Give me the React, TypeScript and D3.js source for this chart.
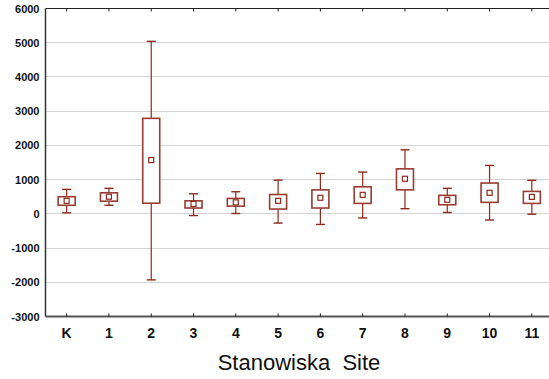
import React, { useEffect, useRef } from 'react';
import * as d3 from 'd3';

// categories (stations)
const sites = ['K', '1', '2', '3', '4', '5', '6', '7', '8', '9', '10', '11'];
// box plot stats
const mins = [30, 250, -1930, -50, 10, -270, -310, -120, 150, 40, -180, -10];
const q1s = [250, 370, 310, 170, 225, 140, 170, 305, 700, 265, 335, 305];
const means = [380, 500, 1570, 290, 335, 380, 470, 555, 1025, 410, 615, 495];
const q3s = [500, 615, 2790, 380, 450, 565, 700, 790, 1315, 540, 900, 655];
const maxs = [715, 745, 5040, 585, 645, 985, 1180, 1220, 1870, 745, 1415, 980];
const yTicks = [-3000, -2000, -1000, 0, 1000, 2000, 3000, 4000, 5000, 6000];

const App = () => {
  const svgRef = useRef<SVGSVGElement>(null);

  useEffect(() => {
    const svg = d3.select(svgRef.current);
    const width = 549;
    const left = 45.5;
    const top = 8.5;
    const bottom = 316.5;

    const x = d3.scaleBand().domain(sites).range([left, 553]).padding(0);
    const y = d3.scaleLinear().domain([-3000, 6000]).range([bottom, top]);
    const cx = (s) => x(s) + x.bandwidth() / 2;

    const data = sites.map((s, i) => ({
      site: s, min: mins[i], q1: q1s[i], mean: means[i], q3: q3s[i], max: maxs[i],
    }));

    // gridlines (dotted)
    svg.append('g')
      .selectAll('line')
      .data(yTicks.filter((t) => t > -3000 && t < 6000))
      .enter()
      .append('line')
      .attr('x1', left)
      .attr('x2', width)
      .attr('y1', (d) => Math.floor(y(d)) + 0.5)
      .attr('y2', (d) => Math.floor(y(d)) + 0.5)
      .attr('stroke', '#a8a8a8')
      .attr('stroke-width', 1)
      .attr('stroke-dasharray', '1,1');

    // y labels
    svg.append('g')
      .selectAll('text')
      .data(yTicks)
      .enter()
      .append('text')
      .attr('x', 39.5)
      .attr('y', (d) => y(d) + 4)
      .attr('text-anchor', 'end')
      .attr('font-family', '"Liberation Sans", Arial, sans-serif')
      .attr('font-weight', 'bold')
      .attr('font-size', 11)
      .attr('fill', '#111')
      .text((d) => d);

    // boxes
    const color = '#8c2a1c';
    const g = svg.append('g').selectAll('g').data(data).enter().append('g');
    const bw = 17;
    const cap = 9;

    g.append('line')
      .attr('x1', (d) => cx(d.site)).attr('x2', (d) => cx(d.site))
      .attr('y1', (d) => y(d.max)).attr('y2', (d) => y(d.q3))
      .attr('stroke', color).attr('stroke-width', 1.2);
    g.append('line')
      .attr('x1', (d) => cx(d.site)).attr('x2', (d) => cx(d.site))
      .attr('y1', (d) => y(d.q1)).attr('y2', (d) => y(d.min))
      .attr('stroke', color).attr('stroke-width', 1.2);
    g.append('line')
      .attr('x1', (d) => cx(d.site) - cap / 2).attr('x2', (d) => cx(d.site) + cap / 2)
      .attr('y1', (d) => y(d.max)).attr('y2', (d) => y(d.max))
      .attr('stroke', color).attr('stroke-width', 1.4);
    g.append('line')
      .attr('x1', (d) => cx(d.site) - cap / 2).attr('x2', (d) => cx(d.site) + cap / 2)
      .attr('y1', (d) => y(d.min)).attr('y2', (d) => y(d.min))
      .attr('stroke', color).attr('stroke-width', 1.4);
    g.append('rect')
      .attr('x', (d) => cx(d.site) - bw / 2)
      .attr('width', bw)
      .attr('y', (d) => y(d.q3))
      .attr('height', (d) => y(d.q1) - y(d.q3))
      .attr('fill', 'white')
      .attr('stroke', '#9a3c32')
      .attr('stroke-width', 1.6);
    g.append('rect')
      .attr('x', (d) => cx(d.site) - 2.5)
      .attr('y', (d) => y(d.mean) - 2.5)
      .attr('width', 5)
      .attr('height', 5)
      .attr('fill', 'white')
      .attr('stroke', color)
      .attr('stroke-width', 1.2);

    // axes frame
    svg.append('line')
      .attr('x1', left).attr('x2', left).attr('y1', top).attr('y2', bottom)
      .attr('stroke', '#333').attr('stroke-width', 1.5);
    svg.append('line')
      .attr('x1', left).attr('x2', width).attr('y1', top).attr('y2', top)
      .attr('stroke', '#222').attr('stroke-width', 1.2);
    svg.append('line')
      .attr('x1', left).attr('x2', width).attr('y1', bottom).attr('y2', bottom)
      .attr('stroke', '#555').attr('stroke-width', 2);

    // category ticks
    svg.append('g').selectAll('line').data(sites).enter().append('line')
      .attr('x1', (d) => cx(d)).attr('x2', (d) => cx(d))
      .attr('y1', top).attr('y2', top + 3)
      .attr('stroke', '#222').attr('stroke-width', 1);
    svg.append('g').selectAll('line').data(sites).enter().append('line')
      .attr('x1', (d) => cx(d)).attr('x2', (d) => cx(d))
      .attr('y1', bottom - 3).attr('y2', bottom)
      .attr('stroke', '#222').attr('stroke-width', 1);

    // category labels
    svg.append('g').selectAll('text').data(sites).enter().append('text')
      .attr('x', (d) => cx(d))
      .attr('y', 337.5)
      .attr('text-anchor', 'middle')
      .attr('font-family', '"Liberation Sans", Arial, sans-serif')
      .attr('font-weight', 'bold')
      .attr('font-size', 14)
      .attr('fill', '#111')
      .text((d) => d);

    // x axis title
    svg.append('text')
      .attr('x', 299)
      .attr('y', 370)
      .attr('text-anchor', 'middle')
      .attr('font-family', '"Liberation Sans", Arial, sans-serif')
      .attr('font-size', 22)
      .attr('fill', '#111')
      .style('white-space', 'pre')
      .text('Stanowiska  Site');

    return () => {
      svg.selectAll('*').remove();
    };
  }, []);

  return (
    <svg
      ref={svgRef}
      width={549}
      height={379}
      style={{ position: 'absolute', left: 0, top: 0, background: 'white' }}
    />
  );
};

export default App;
